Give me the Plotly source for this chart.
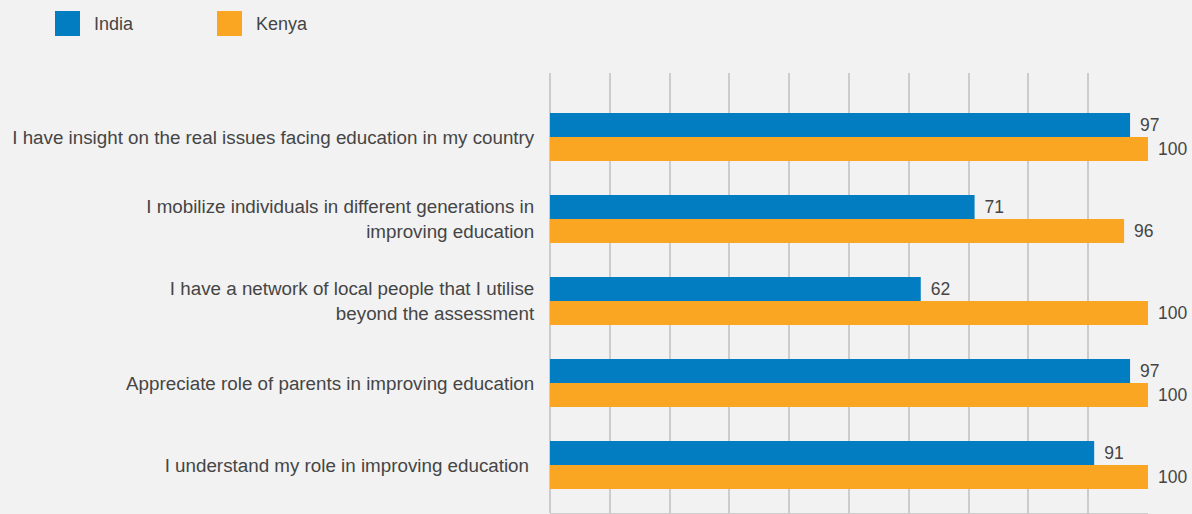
import plotly.graph_objects as go

categories = [
    "I have insight on the real issues facing education in my country",
    "I mobilize individuals in different generations in<br>improving education",
    "I have a network of local people that I utilise<br>beyond the assessment",
    "Appreciate role of parents in improving education",
    "I understand my role in improving education\u00a0",
]
india = [97, 71, 62, 97, 91]
kenya = [100, 96, 100, 100, 100]
series_names = ["India", "Kenya"]
colors = ["#027DC2", "#FAA623"]

W, H = 1192, 514
ML, MR, MT, MB = 550, 44, 73, 1
PW, PH = W - ML - MR, H - MT - MB
FONT = "Liberation Sans, Arial, Helvetica, sans-serif"
TXT = "#454545"

def px_x(p):
    return (p - ML) / PW

def px_y(p):
    return (H - MB - p) / PH

fig = go.Figure()
for name, vals, col in zip(series_names, [india, kenya], colors):
    fig.add_trace(go.Bar(
        y=categories, x=vals, name=name, orientation="h",
        marker=dict(color=col, line=dict(width=0)),
        text=vals, texttemplate="\u2009\u2009%{x}", textposition="outside",
        cliponaxis=False,
        textfont=dict(family=FONT, size=17.5, color=TXT),
        showlegend=False,
    ))

shapes = []
annotations = []
leg_x = [55, 217]
for i, (name, col) in enumerate(zip(series_names, colors)):
    x0 = leg_x[i]
    shapes.append(dict(type="rect", xref="paper", yref="paper",
                       x0=px_x(x0), x1=px_x(x0 + 25), y0=px_y(36), y1=px_y(11),
                       fillcolor=col, line=dict(width=0)))
    annotations.append(dict(xref="paper", yref="paper", x=px_x(x0 + 37), y=px_y(24),
                            text=name, showarrow=False, xanchor="left", yanchor="middle",
                            font=dict(family=FONT, size=18, color=TXT)))

fig.update_layout(
    width=W, height=H,
    margin=dict(l=ML, r=MR, t=MT, b=MB, pad=0),
    paper_bgcolor="#f2f2f2", plot_bgcolor="#f2f2f2",
    barmode="group", bargap=0.415, bargroupgap=0,
    showlegend=False,
    shapes=shapes, annotations=annotations,
    xaxis=dict(range=[0, 100], dtick=10, showticklabels=False, showgrid=True,
               gridcolor="#cccccc", gridwidth=1.5, zeroline=True, zerolinecolor="#cccccc",
               zerolinewidth=1.5, showline=True, linecolor="#cccccc", linewidth=1.5,
               fixedrange=True),
    yaxis=dict(type="category", range=[4.585, -0.78], showgrid=False, zeroline=False,
               ticks="outside", ticklen=11, tickcolor="rgba(0,0,0,0)",
               tickfont=dict(family=FONT, size=18.8, color=TXT),
               fixedrange=True),
    font=dict(family=FONT),
)

fig.write_html("out.html", config={"displayModeBar": False},
               post_script="document.body.style.margin='0';document.body.style.background='#f2f2f2';")
